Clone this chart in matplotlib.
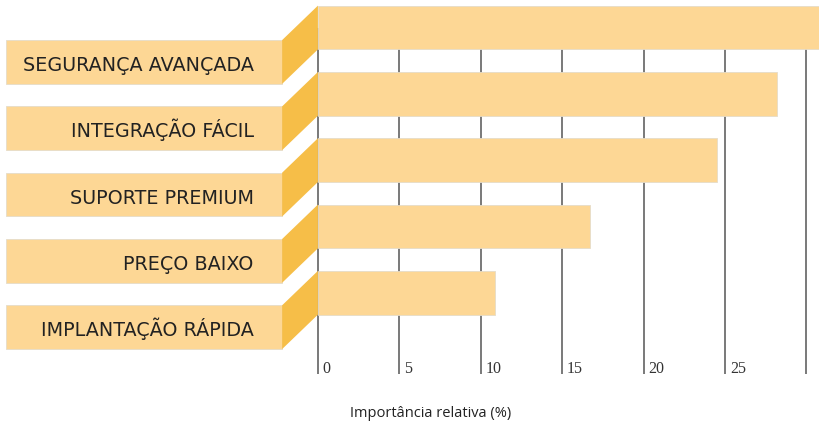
import matplotlib.pyplot as plt
from matplotlib.patches import Polygon, Rectangle

# dados
categorias = ["SEGURANÇA AVANÇADA", "INTEGRAÇÃO FÁCIL", "SUPORTE PREMIUM",
              "PREÇO BAIXO", "IMPLANTAÇÃO RÁPIDA"]
valores = [32.0, 28.2, 24.5, 16.7, 10.9]
ticks = [0, 5, 10, 15, 20, 25, 30]
xlabel = "Importância relativa (%)"

COR_BARRA = "#FDD795"
COR_LADO = "#F6BE48"
COR_GRADE = "#555555"

ALT = 0.66          # altura da barra (unidades de categoria)
DESLOC_Y = 0.52     # caixa do rótulo fica um pouco abaixo da barra
DESLOC_X = 2.2      # largura do "degrau" entre caixa e barra
CAIXA_X0 = -19.14

fig = plt.figure(figsize=(8.2, 4.27), dpi=100)
ax = fig.add_axes([0, 0, 1, 1])
ax.set_xlim(-19.53, 30.84)
ax.set_ylim(6.01, -0.43)
ax.axis("off")

# grade vertical
ax.vlines(ticks, 0, 5.23, color=COR_GRADE, linewidth=1.1, zorder=1)
for t in ticks[:-1]:
    ax.text(t + 0.3, 5.13, str(t), family="Liberation Serif", fontsize=11.5,
            color="#333333", ha="left", va="center")

for i, (cat, v) in enumerate(zip(categorias, valores)):
    # barra
    ax.add_patch(Rectangle((0, i - ALT / 2), v, ALT, facecolor=COR_BARRA,
                           edgecolor="#e6dcc8", linewidth=0.6, zorder=2))
    # caixa do rótulo
    yb = i + DESLOC_Y
    ax.add_patch(Rectangle((CAIXA_X0, yb - ALT / 2), CAIXA_X0 * -1 - DESLOC_X, ALT,
                           facecolor=COR_BARRA, edgecolor="#e6dcc8",
                           linewidth=0.6, zorder=2))
    # lado inclinado
    ax.add_patch(Polygon([(-DESLOC_X, yb - ALT / 2), (0, i - ALT / 2),
                          (0, i + ALT / 2), (-DESLOC_X, yb + ALT / 2)],
                         closed=True, facecolor=COR_LADO, edgecolor="none",
                         zorder=2))
    ax.text(-3.95, yb + 0.12, cat, family="DejaVu Sans", fontsize=13.8,
            color="#222222", ha="right", va="baseline", zorder=3)

ax.text(6.9, 5.81, xlabel, family="Open Sans", fontsize=10.5,
        color="#222222", ha="center", va="center")

plt.savefig("out.png", dpi=100)
